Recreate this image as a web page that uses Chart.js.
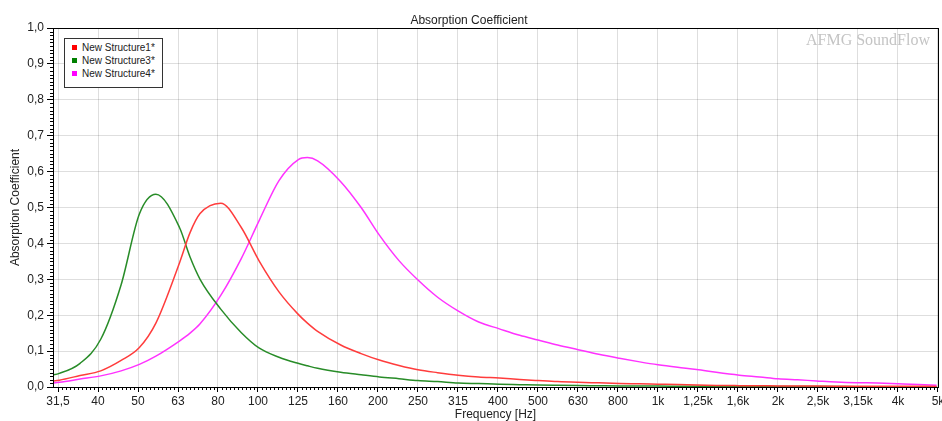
<!DOCTYPE html>
<html>
<head>
<meta charset="utf-8">
<script src="https://cdn.jsdelivr.net/npm/chart.js@4/dist/chart.umd.min.js"></script>
<style>
  html, body { margin: 0; padding: 0; background: #fff; }
  #wrap { position: relative; width: 942px; height: 421px; }
  #legend {
    position: absolute; left: 64px; top: 38px; width: 97px; height: 46px;
    padding-top: 2px; border: 1px solid #333; background: #fff;
    font: 10px "Liberation Sans", Arial, sans-serif; color: #222;
  }
  #legend div { height: 13.2px; line-height: 13.2px; padding-left: 7px; white-space: nowrap; }
  #legend span { display: inline-block; width: 5px; height: 5px; margin-right: 5px; vertical-align: 1px; }
</style>
</head>
<body>
<div id="wrap">
  <canvas id="grafico" width="942" height="421"></canvas>
  <div id="legend"></div>
</div>
<script>
// ---------- Dados ----------
const bandLabels = ['31,5','40','50','63','80','100','125','160','200','250','315','400','500',
  '630','800','1k','1,25k','1,6k','2k','2,5k','3,15k','4k','5k'];

const freqs = [30, 31.5, 35.5, 40, 45, 50, 55, 63, 67, 71, 80, 90, 100, 112, 125, 132, 140, 160, 180,
  200, 224, 250, 280, 315, 355, 400, 450, 500, 560, 630, 710, 800, 900, 1000, 1120, 1250, 1400,
  1600, 1800, 2000, 2240, 2500, 2800, 3150, 3550, 4000, 4500, 5000];

const structure1 = [0.016, 0.019, 0.032, 0.045, 0.074, 0.110, 0.178, 0.345, 0.430, 0.483, 0.512, 0.445,
  0.350, 0.265, 0.203, 0.178, 0.155, 0.117, 0.093, 0.075, 0.060, 0.048, 0.040, 0.033, 0.028, 0.025,
  0.021, 0.018, 0.015, 0.013, 0.0115, 0.010, 0.009, 0.008, 0.007, 0.0055, 0.0045, 0.0038, 0.0033,
  0.003, 0.0027, 0.0025, 0.0023, 0.0021, 0.002, 0.0019, 0.0018, 0.0017];

const structure3 = [0.033, 0.038, 0.066, 0.133, 0.285, 0.482, 0.537, 0.445, 0.362, 0.300, 0.217, 0.152,
  0.108, 0.083, 0.066, 0.059, 0.052, 0.041, 0.034, 0.028, 0.023, 0.018, 0.015, 0.011, 0.0095, 0.0078,
  0.0066, 0.0055, 0.0047, 0.004, 0.0035, 0.003, 0.0027, 0.0025, 0.0022, 0.002, 0.0018, 0.0016,
  0.0015, 0.0014, 0.0013, 0.0012, 0.0011, 0.001, 0.001, 0.0009, 0.0008, 0.0008];

const structure4 = [0.010, 0.013, 0.022, 0.031, 0.045, 0.063, 0.086, 0.128, 0.150, 0.176, 0.255, 0.357,
  0.465, 0.575, 0.633, 0.639, 0.630, 0.572, 0.500, 0.423, 0.352, 0.298, 0.250, 0.212, 0.181, 0.162,
  0.144, 0.131, 0.117, 0.104, 0.091, 0.080, 0.070, 0.062, 0.055, 0.049, 0.041, 0.033, 0.028, 0.023,
  0.020, 0.017, 0.014, 0.012, 0.011, 0.009, 0.007, 0.005];

const series = [
  { label: 'New Structure1*', values: structure1, line: 'rgb(255,60,60)',  box: '#ff0000' },
  { label: 'New Structure3*', values: structure3, line: 'rgb(40,140,40)',  box: '#008000' },
  { label: 'New Structure4*', values: structure4, line: 'rgb(255,50,255)', box: '#ff00ff' },
];

// centros exatos das bandas de terço de oitava (posição dos rótulos)
const bandCenters = bandLabels.map((_, i) => 1000 * Math.pow(2, (i - 15) / 3));

const FONT = '"Liberation Sans", Arial, sans-serif';
const GRID = 'rgba(0,0,0,0.13)';

// ---------- Plugins ----------
const marcaDagua = {
  id: 'marcaDagua',
  beforeDatasetsDraw(chart) {
    const ctx = chart.ctx;
    ctx.save();
    ctx.font = '16px "Liberation Serif", "Times New Roman", serif';
    ctx.fillStyle = '#c4c4c4';
    ctx.textAlign = 'right';
    ctx.textBaseline = 'alphabetic';
    ctx.fillText('AFMG SoundFlow', 930, 45);
    ctx.restore();
  }
};

const ticksMenores = {
  id: 'ticksMenores',
  afterDraw(chart) {
    const { ctx, chartArea: a, scales: { x, y } } = chart;
    ctx.save();
    ctx.strokeStyle = '#000';
    ctx.lineWidth = 1;
    ctx.beginPath();
    const xt = x.ticks.map(t => x.getPixelForValue(t.value));
    for (let i = 0; i < xt.length - 1; i++) {
      for (let k = 1; k < 10; k++) {
        const px = Math.round(xt[i] + (xt[i + 1] - xt[i]) * k / 10) + 0.5;
        ctx.moveTo(px, a.bottom);
        ctx.lineTo(px, a.bottom + 3);
      }
    }
    for (let v = 1; v < 100; v++) {
      if (v % 10 === 0) continue;
      const py = Math.round(y.getPixelForValue(v / 100)) + 0.5;
      ctx.moveTo(a.left - 3, py);
      ctx.lineTo(a.left, py);
    }
    ctx.stroke();
    ctx.strokeRect(Math.round(a.left) + 0.5, Math.round(a.top) + 0.5,
      Math.round(a.right - a.left), Math.round(a.bottom - a.top));
    ctx.restore();
  }
};

// ---------- Gráfico ----------
function renderLegenda() {
  const el = document.getElementById('legend');
  el.innerHTML = series.map(s => `<div><span style="background:${s.box}"></span>${s.label}</div>`).join('');
}

function renderGrafico() {
  const config = {
    type: 'line',
    data: {
      datasets: series.map(s => ({
        label: s.label,
        data: freqs.map((f, i) => ({ x: f, y: s.values[i] })),
        borderColor: s.line,
        backgroundColor: s.box,
        borderWidth: 1.5,
        pointRadius: 0,
        fill: false,
        cubicInterpolationMode: 'monotone',
      }))
    },
    options: {
      responsive: false,
      devicePixelRatio: 1,
      animation: false,
      layout: { padding: { left: 0, right: 4, top: 0, bottom: 0 } },
      scales: {
        x: {
          type: 'logarithmic',
          bounds: 'data',
          min: 30.36,
          max: 5040,
          afterBuildTicks: (s) => { s.ticks = bandCenters.map(v => ({ value: v })); },
          afterFit: (s) => { s.height = 34; s.paddingLeft = 0; s.paddingRight = 0; },
          ticks: {
            autoSkip: false, maxRotation: 0, minRotation: 0, padding: 2,
            color: '#222', font: { family: FONT, size: 12 },
            callback: (v, i) => bandLabels[i],
          },
          grid: { color: GRID, tickColor: '#000', tickLength: 5 },
          border: { color: '#000', width: 1 },
          title: {
            display: true, text: 'Frequency [Hz]', color: '#222',
            font: { family: FONT, size: 12, lineHeight: 1 }, padding: { top: 0, bottom: 0 },
          },
        },
        y: {
          min: 0,
          max: 1,
          afterFit: (s) => { s.width = 53; },
          ticks: {
            stepSize: 0.1, padding: 3, color: '#222', font: { family: FONT, size: 12 },
            callback: (v) => v.toFixed(1).replace('.', ','),
          },
          grid: { color: GRID, tickColor: '#000', tickLength: 6 },
          border: { color: '#000', width: 1 },
          title: {
            display: true, text: 'Absorption Coefficient', color: '#222',
            font: { family: FONT, size: 12 }, padding: { top: 8, bottom: 0 },
          },
        }
      },
      plugins: {
        legend: { display: false },
        tooltip: { enabled: false },
        title: {
          display: true, text: 'Absorption Coefficient', color: '#222',
          font: { family: FONT, size: 12, weight: 'normal' },
          padding: { top: 13, bottom: 0.6 },
        },
      }
    },
    plugins: [marcaDagua, ticksMenores],
  };
  new Chart(document.getElementById('grafico'), config);
}

renderLegenda();
renderGrafico();
</script>
</body>
</html>
